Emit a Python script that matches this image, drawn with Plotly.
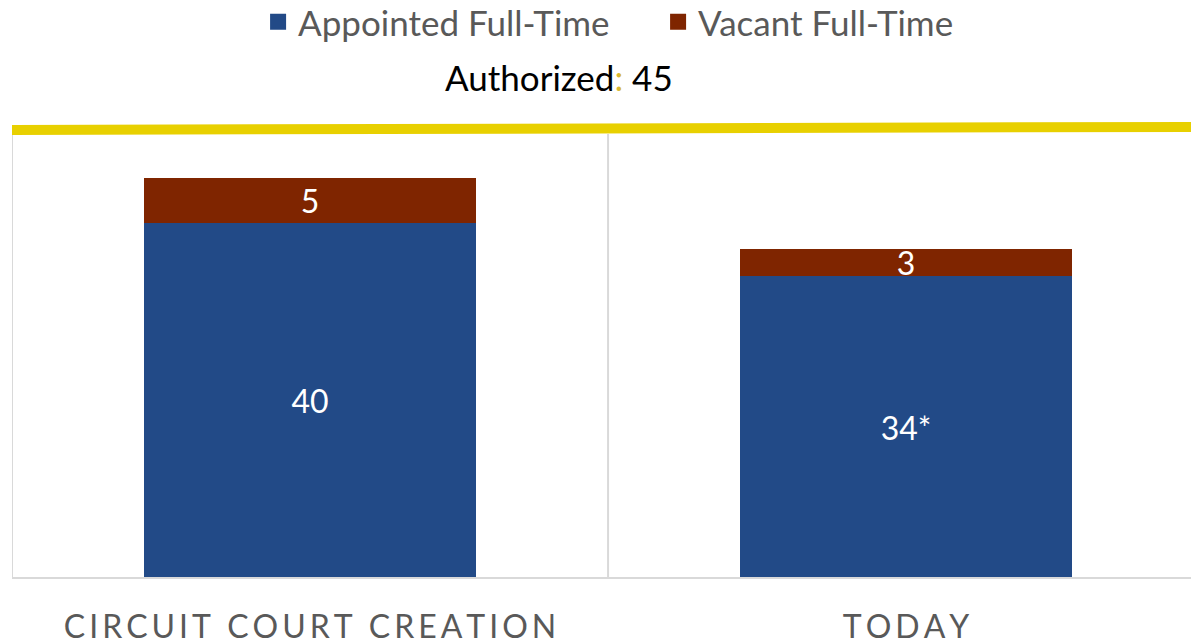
import plotly.graph_objects as go

categories = ["CIRCUIT COURT CREATION", "TODAY"]
appointed = [40, 34]
vacant = [5, 3]
appointed_labels = ["40", "34*"]
vacant_labels = ["5", "3"]
authorized = 45
series_names = ["Appointed Full-Time", "Vacant Full-Time"]

BLUE = "#224A87"
BROWN = "#7F2500"
GOLD = "#E8D000"
FONT = "Lato"

def spaced(s):
    return "\u2009".join(s)

tick_text = [spaced(c) for c in categories]

fig = go.Figure()
for vals, labels, color in [(appointed, appointed_labels, BLUE), (vacant, vacant_labels, BROWN)]:
    fig.add_trace(go.Bar(
        x=categories, y=vals, showlegend=False,
        marker=dict(color=color, line=dict(width=0)),
        text=labels, textposition="inside", insidetextanchor="middle", textangle=0,
        insidetextfont=dict(color="white", size=32, family=FONT),
        textfont=dict(color="white", size=32, family=FONT),
        hoverinfo="skip",
    ))
# legend proxies
for name, color in zip(series_names, [BLUE, BROWN]):
    fig.add_trace(go.Scatter(
        x=[None], y=[None], mode="markers", name=name,
        marker=dict(symbol="square", size=20, color=color),
    ))

fig.update_layout(
    barmode="stack",
    bargap=0.443,
    width=1191, height=644,
    margin=dict(l=12, r=0, t=134, b=66, autoexpand=False),
    paper_bgcolor="white", plot_bgcolor="white",
    font=dict(family=FONT, color="#595959"),
    showlegend=True,
    legend=dict(orientation="h", x=0.548, xanchor="center", y=1.252, yanchor="middle",
                font=dict(size=35, color="#595959", family=FONT),
                itemsizing="trace", traceorder="normal",
                itemwidth=30, entrywidth=355, entrywidthmode="pixels"),
    uniformtext=dict(mode="show", minsize=32),
)
fig.update_xaxes(
    range=[-0.5, 1.478], tickvals=categories, ticktext=tick_text,
    tickfont=dict(size=32, color="#595959", family=FONT),
    showgrid=False, zeroline=False, showline=False, ticks="",
    ticklabelstandoff=27, automargin=False,
)
fig.update_yaxes(range=[0, 50], visible=False, showgrid=False, automargin=False)

# frame lines: left border, category divider, baseline
fig.add_shape(type="line", xref="x", yref="paper", x0=-0.5, x1=-0.5, y0=0, y1=1,
              line=dict(color="#D9D9D9", width=2))
fig.add_shape(type="line", xref="x", yref="paper", x0=0.5, x1=0.5, y0=0, y1=1,
              line=dict(color="#D9D9D9", width=2))
fig.add_shape(type="line", xref="paper", yref="paper", x0=0, x1=1, y0=0, y1=0,
              line=dict(color="#D9D9D9", width=2))
# authorized marker line
fig.add_shape(type="line", xref="paper", yref="paper", x0=0, x1=1, y0=1.009, y1=1.016,
              line=dict(color=GOLD, width=10))

fig.add_annotation(
    xref="paper", yref="paper", x=0.464, y=1.128, showarrow=False,
    xanchor="center", yanchor="middle",
    text="Authorized<span style='color:%s'>:</span> %d" % ("#D8B830", authorized),
    font=dict(size=35, color="black", family=FONT),
)

fig.write_html("out.html", config={"displayModeBar": False},
               post_script="document.body.style.margin='0';")
